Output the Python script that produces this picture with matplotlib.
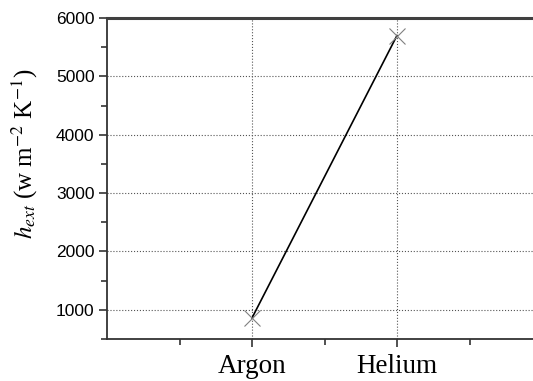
import matplotlib
matplotlib.use('Agg')
import matplotlib.pyplot as plt
from matplotlib.ticker import MultipleLocator, FixedLocator

# data
gases = ['Argon', 'Helium']
positions = [1, 2]
h_ext = [860, 5700]

plt.rcParams['mathtext.fontset'] = 'stix'

fig = plt.figure(figsize=(5.33, 3.81), dpi=100)
ax = fig.add_axes([107/533, 1 - 339/381, 435/533, (339 - 18)/381])

# line and markers
ax.plot(positions, h_ext, color='black', lw=1.2, zorder=3)
ax.plot(positions, h_ext, ls='none', marker='x', ms=11, mew=0.8,
        color='#808080', zorder=4)

ax.set_xlim(0, 3)
ax.set_ylim(500, 6000)

ax.set_xticks(positions)
ax.set_xticklabels(gases, family='Liberation Serif', fontsize=19.5)
ax.xaxis.set_minor_locator(FixedLocator([0.5, 1.5, 2.5]))
ax.set_yticks([1000, 2000, 3000, 4000, 5000, 6000])
ax.yaxis.set_minor_locator(MultipleLocator(500))
for lab in ax.get_yticklabels():
    lab.set_family('Liberation Sans')
    lab.set_fontsize(12.5)

ax.tick_params(axis='both', which='major', direction='out', length=6,
               width=1.2, color='#333333')
ax.tick_params(axis='both', which='minor', direction='out', length=4,
               width=1.2, color='#333333')
ax.tick_params(axis='x', pad=5)
ax.tick_params(axis='y', pad=3)

ax.grid(True, which='major', ls=':', lw=0.8, color='#555555')

ax.spines['right'].set_visible(False)
ax.spines['top'].set_linewidth(2.2)
ax.spines['top'].set_color('#404040')
ax.spines['left'].set_linewidth(1.3)
ax.spines['left'].set_color('#333333')
ax.spines['bottom'].set_linewidth(1.3)
ax.spines['bottom'].set_color('#333333')

ax.set_ylabel(r'$h_{ext}$ (w m$^{\mathrm{-2}}$ K$^{\mathrm{-1}}$)',
              family='Liberation Serif', fontsize=18)
ax.yaxis.set_label_coords(-0.154, 0.576)

fig.savefig('out.png', dpi=100)
